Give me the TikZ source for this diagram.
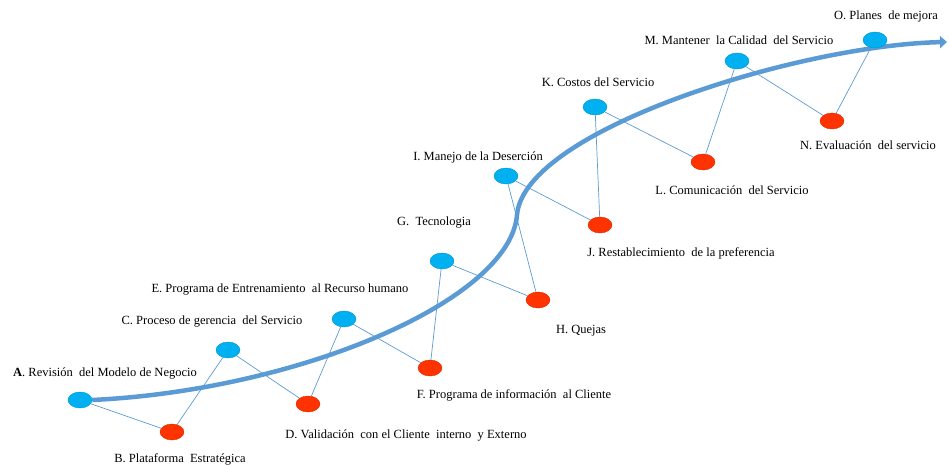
\documentclass[tikz,border=0pt]{standalone}
\usepackage{fontspec}
\setmainfont{Liberation Serif}
\usetikzlibrary{arrows.meta,shapes.geometric,backgrounds}

\definecolor{spineblue}{RGB}{91,155,213}
\definecolor{stepblue}{RGB}{0,176,240}
\definecolor{stepred}{RGB}{255,51,0}

\begin{document}
\begin{tikzpicture}[
  x=1pt,y=-1pt,
  font=\fontsize{12.5}{14}\selectfont,
  dot/.style={ellipse,minimum width=24pt,minimum height=16pt,inner sep=0pt},
  upper/.style={dot,fill=stepblue,draw=stepblue!85!black,line width=0.4pt},
  lower/.style={dot,fill=stepred,draw=stepred!85!black,line width=0.4pt},
  lbl/.style={inner sep=0pt},
  link/.style={spineblue,line width=0.7pt},
  spine/.style={-{Triangle[length=7pt,width=12pt]},spineblue,line width=4.5pt},
]
\useasboundingbox (0,0) rectangle (949,465);

% ---------------- blue steps (on or above the path) ----------------
\node[upper] (A) at (80,400) {};
\node[upper] (C) at (228,350) {};
\node[upper] (E) at (344,319) {};
\node[upper] (G) at (442,261) {};
\node[upper] (I) at (506,176) {};
\node[upper] (K) at (595,107) {};
\node[upper] (M) at (737,61) {};
\node[upper] (O) at (875,40) {};

% ---------------- red steps (below the path) ----------------
\node[lower] (B) at (172,432) {};
\node[lower] (D) at (308,404) {};
\node[lower] (F) at (430,368) {};
\node[lower] (H) at (538,300) {};
\node[lower] (J) at (600,225) {};
\node[lower] (L) at (703,162) {};
\node[lower] (N) at (832,121) {};

% ---------------- labels ----------------
\node[lbl] (lA) at (105,373) {\textbf{A}. Revisión\ \ del Modelo de Negocio};
\node[lbl] (lB) at (180,459) {B. Plataforma\ \ Estratégica};
\node[lbl] (lC) at (212,322) {C. Proceso de gerencia\ \ del Servicio};
\node[lbl] (lD) at (406,435) {D. Validación\ \ con el Cliente\ \ interno\ \ y Externo};
\node[lbl] (lE) at (280,290) {E. Programa de Entrenamiento\ \ al Recurso humano};
\node[lbl] (lF) at (514,395) {F. Programa de información\ \ al Cliente};
\node[lbl] (lG) at (434,223) {G.\ \ Tecnologia};
\node[lbl] (lH) at (581,331) {H. Quejas};
\node[lbl] (lI) at (478,157) {I. Manejo de la Deserción};
\node[lbl] (lJ) at (681,253) {J. Restablecimiento\ \ de la preferencia};
\node[lbl] (lK) at (598,82) {K. Costos del Servicio};
\node[lbl] (lL) at (732,190) {L. Comunicación\ \ del Servicio};
\node[lbl] (lM) at (739,40) {M. Mantener\ \ la Calidad\ \ del Servicio};
\node[lbl] (lN) at (868,145) {N. Evaluación\ \ del servicio};
\node[lbl] (lO) at (886,16) {O. Planes\ \ de mejora};

% ---------------- path and zigzag, behind the dots ----------------
\begin{scope}[on background layer]
\coordinate (bend) at (517,215);
\coordinate (tip) at (947,42);
\draw[spine] (A.east) .. controls (300,390) and (510,300) .. (bend)
                      .. controls (524,130) and (800,45) .. (tip);
\foreach \a/\b in {A/B,B/C,C/D,D/E,E/F,F/G,G/H,H/I,I/J,J/K,K/L,L/M,M/N,N/O}{\draw[link] (\a) -- (\b);}
\end{scope}

\end{tikzpicture}
\end{document}
